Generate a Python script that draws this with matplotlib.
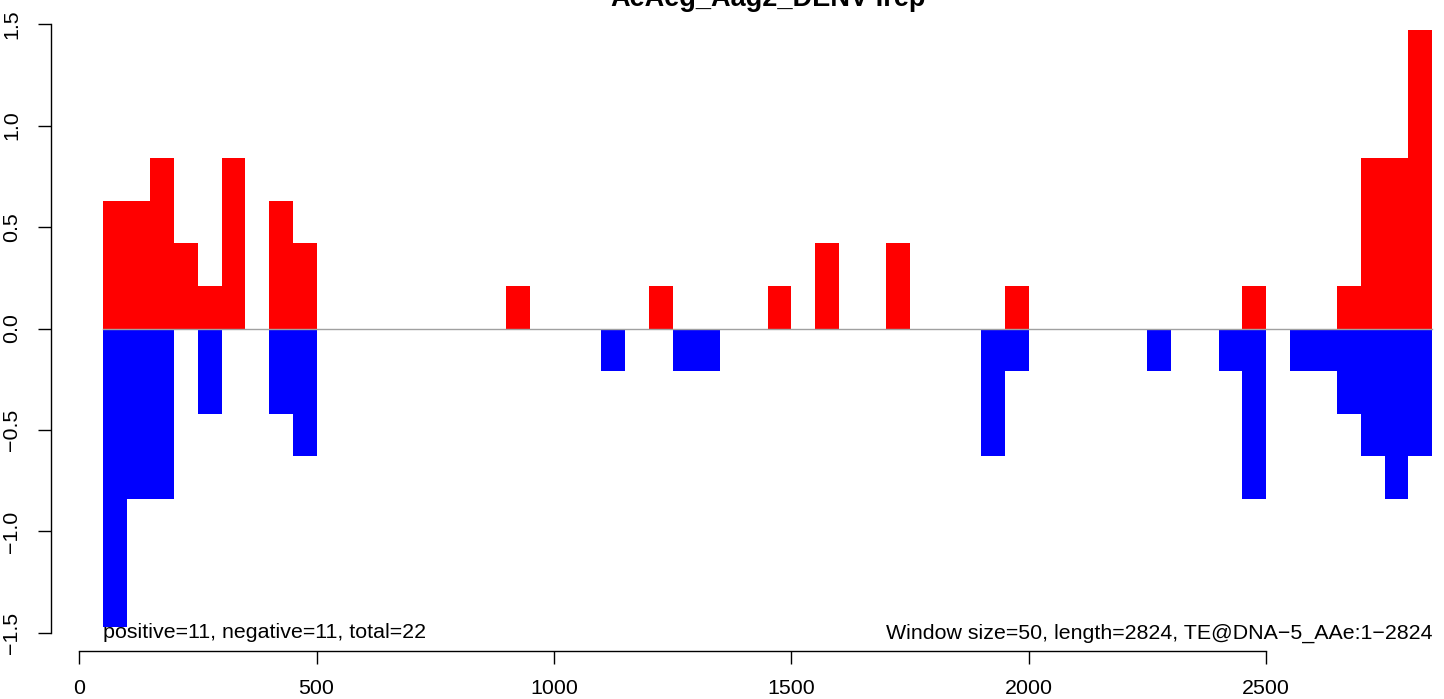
import numpy as np
import matplotlib
matplotlib.use('Agg')
import matplotlib.pyplot as plt

matplotlib.rcParams['font.family'] = ['Liberation Sans', 'DejaVu Sans']

# window starts (size 50) and coverage counts, one unit = 0.21
win_size = 50
pos_starts = [50, 100, 150, 200, 250, 300, 400, 450, 900, 1200, 1450, 1550,
              1700, 1950, 2450, 2650, 2700, 2750, 2800]
pos_counts = [3, 3, 4, 2, 1, 4, 3, 2, 1, 1, 1, 2, 2, 1, 1, 1, 4, 4, 7]
neg_starts = [50, 100, 150, 250, 400, 450, 1100, 1250, 1300, 1900, 1950, 2250,
              2400, 2450, 2550, 2600, 2650, 2700, 2750, 2800]
neg_counts = [7, 4, 4, 2, 2, 3, 1, 1, 1, 3, 1, 1, 1, 4, 1, 1, 2, 3, 4, 3]
unit = 0.21

title = 'AeAeg_Aag2_DENV-Irep'
left_note = 'positive=11, negative=11, total=22'
right_note = 'Window size=50, length=2824, TE@DNA\u22125_AAe:1\u22122824'
x_ticks = [0, 500, 1000, 1500, 2000, 2500]
y_ticks = [-1.5, -1.0, -0.5, 0.0, 0.5, 1.0, 1.5]
y_labels = ['\u22121.5', '\u22121.0', '\u22120.5', '0.0', '0.5', '1.0', '1.5']

W, H = 1444, 699
fig = plt.figure(figsize=(W / 100, H / 100), dpi=100)
# plot region in pixels: left 50.7, right edge of figure, top 6, bottom 651
ax = fig.add_axes([50.7 / W, (H - 651) / H, (W - 50.7) / W, 645 / H])

pos_vals = np.array(pos_counts) * unit
neg_vals = -np.array(neg_counts) * unit
ax.bar(pos_starts, pos_vals, width=win_size, align='edge', color='#ff0000',
       linewidth=0)
ax.bar(neg_starts, neg_vals, width=win_size, align='edge', color='#0000ff',
       linewidth=0)
ax.plot([50, 2850], [0, 0], color='#a0a0a0', lw=1.0)

ax.set_xlim(-60, 2875)
ax.set_ylim(-1.589, 1.589)

for s in ['top', 'right']:
    ax.spines[s].set_visible(False)
ax.spines['left'].set_bounds(-1.5, 1.5)
ax.spines['bottom'].set_bounds(0, 2500)
for s in ['left', 'bottom']:
    ax.spines[s].set_linewidth(1.0)

ax.set_xticks(x_ticks)
ax.set_xticklabels([str(t) for t in x_ticks])
ax.set_yticks(y_ticks)
ax.set_yticklabels(y_labels, rotation=90, va='center')
ax.tick_params(axis='both', direction='out', length=9.4, width=1.0,
               labelsize=15.4)
ax.tick_params(axis='x', pad=11)
ax.tick_params(axis='y', pad=12)

ax.text(50, -1.5, left_note, ha='left', va='center', fontsize=15.4)
ax.text(2850, -1.5, right_note, ha='right', va='center', fontsize=15.4)

fig.text(768 / W, 1 - 6 / H, title, ha='center', va='baseline',
         fontsize=19.5, fontweight='bold')

fig.savefig('out.png', dpi=100)
